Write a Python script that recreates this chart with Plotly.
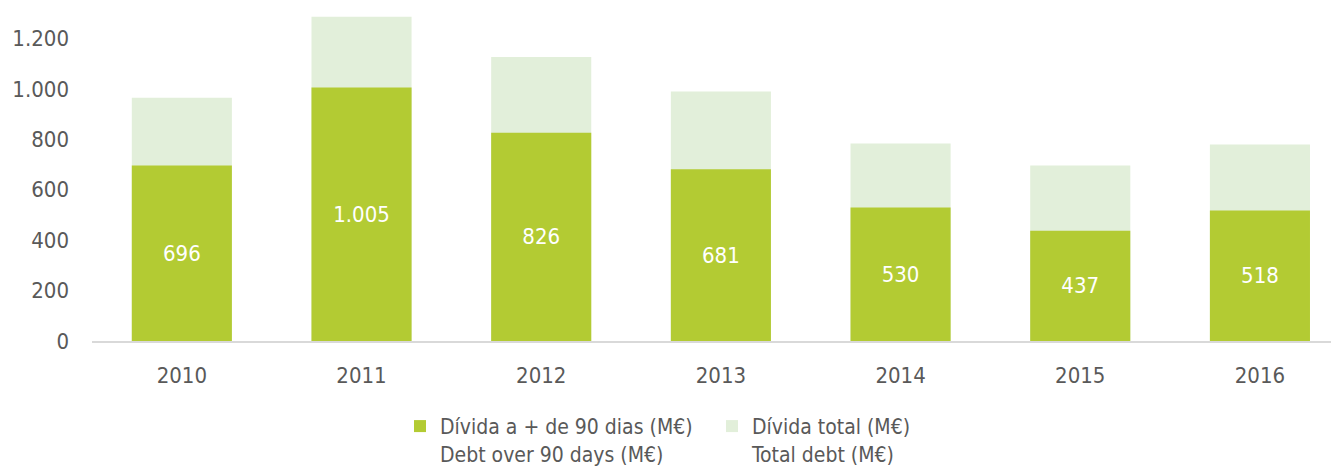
import plotly.graph_objects as go

years = ["2010", "2011", "2012", "2013", "2014", "2015", "2016"]
debt_over_90 = [696, 1005, 826, 681, 530, 437, 518]
total_debt = [965, 1286, 1126, 990, 783, 696, 779]
y_ticks = [0, 200, 400, 600, 800, 1000, 1200]

FONT = "DejaVu Sans Condensed, DejaVu Sans, sans-serif"
GRAY = "#595959"

fig = go.Figure()
fig.add_trace(go.Bar(
    x=years, y=total_debt, name="Dívida total (M€)<br>Total debt (M€)",
    marker=dict(color="#E2EFDA", line=dict(width=0)), width=0.557,
    legendrank=2, hoverinfo="skip",
))
fig.add_trace(go.Bar(
    x=years, y=debt_over_90, name="Dívida a + de 90 dias (M€)<br>Debt over 90 days (M€)",
    marker=dict(color="#B3CB33", line=dict(width=0)), width=0.557,
    text=debt_over_90, texttemplate="%{y:,}", textposition="inside",
    insidetextanchor="middle", textangle=0,
    textfont=dict(color="white", size=22, family=FONT),
    legendrank=1,
))

# the page body adds an 8px margin, so the figure is 8px smaller than the window
fig.update_layout(
    width=1331, height=462,
    barmode="overlay",
    separators=",.",
    plot_bgcolor="white", paper_bgcolor="white",
    margin=dict(l=84, r=0, t=0, b=128.5, autoexpand=False),
    font=dict(family=FONT, size=22, color=GRAY),
    showlegend=True,
    legend=dict(
        orientation="h", x=0.247, xanchor="left", y=-0.195, yanchor="top",
        font=dict(size=21, color=GRAY, family=FONT),
        traceorder="normal", itemwidth=30, entrywidth=267, valign="top",
        bgcolor="rgba(0,0,0,0)",
    ),
    xaxis=dict(
        type="category", range=[-0.5, 6.44], automargin=False,
        showline=True, linecolor="#D9D9D9", linewidth=2,
        ticks="", showgrid=False, tickfont=dict(size=22, color=GRAY),
        ticklabelstandoff=14,
    ),
    yaxis=dict(
        range=[0, 1320.8], tickvals=y_ticks, tickformat=",d",
        separatethousands=True, automargin=False,
        showgrid=False, zeroline=False, showline=False, ticks="",
        tickfont=dict(size=22, color=GRAY), ticklabelstandoff=22,
    ),
)

fig.write_html("out.html")
